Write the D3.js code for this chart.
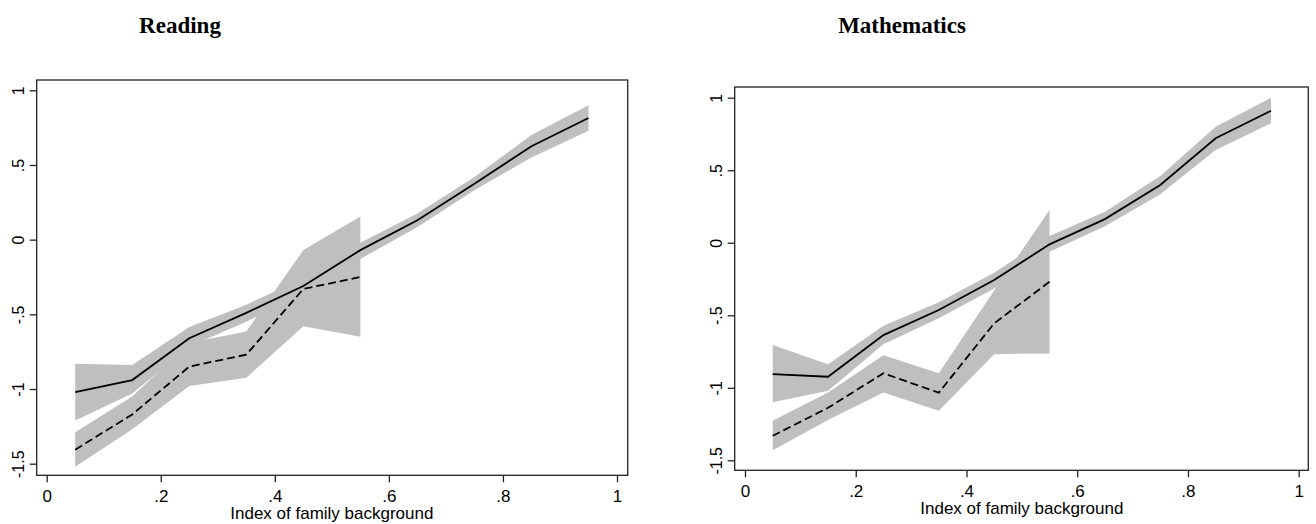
<!DOCTYPE html>
<html>
<head>
<meta charset="utf-8">
<script src="https://cdn.jsdelivr.net/npm/d3@7"></script>
<style>
	body { margin: 0; background: #fff; }
	svg { display: block; }
	text { font-family: "Liberation Sans", Arial, sans-serif; fill: #000; }
	.title { font-family: "Liberation Serif", "Times New Roman", serif; font-weight: bold; }
</style>
</head>
<body>
<svg id="chart" width="1316" height="524"></svg>
<script>

// decile midpoints of the family background index
const xMid = [0.05, 0.15, 0.25, 0.35, 0.45, 0.55, 0.65, 0.75, 0.85, 0.95]

// Reading
const readSolid = [-1.02, -0.94, -0.66, -0.49, -0.31, -0.07, 0.13, 0.375, 0.625, 0.815]
const readSolidLo = [-1.21, -1.03, -0.715, -0.55, -0.36, -0.13, 0.085, 0.33, 0.55, 0.73]
const readSolidHi = [-0.83, -0.84, -0.585, -0.435, -0.26, -0.02, 0.175, 0.42, 0.70, 0.90]
const readDash = [-1.406, -1.17, -0.85, -0.77, -0.33, -0.25]
const readDashLo = [-1.52, -1.27, -0.98, -0.925, -0.58, -0.65]
const readDashHi = [-1.29, -1.05, -0.69, -0.615, -0.07, 0.155]

// Mathematics
const mathSolid = [-0.906, -0.924, -0.637, -0.464, -0.257, -0.011, 0.163, 0.398, 0.72, 0.91]
const mathSolidLo = [-1.10, -1.02, -0.70, -0.52, -0.315, -0.062, 0.113, 0.335, 0.64, 0.823]
const mathSolidHi = [-0.705, -0.837, -0.572, -0.41, -0.207, 0.046, 0.213, 0.46, 0.80, 1.0]
const mathDash = [-1.331, -1.138, -0.90, -1.034, -0.556, -0.269]
const mathDashLo = [-1.43, -1.223, -1.032, -1.159, -0.768, -0.763]
const mathDashHi = [-1.228, -1.032, -0.775, -0.90, -0.33, 0.225]

const xTicks = [0, 0.2, 0.4, 0.6, 0.8, 1]
const yTicks = [1, 0.5, 0, -0.5, -1, -1.5]
const xLabel = 'Index of family background'

const fmt = v => String(v).replace('0.', '.')

const svg = d3.select('#chart')

const panels = [
	{
		title: 'Reading', titleX: 180,
		box: [36.7, 80, 627.7, 475.3], xr: [46.7, 617], yr: [90.3, 463.7],
		solid: readSolid, solidLo: readSolidLo, solidHi: readSolidHi,
		dash: readDash, dashLo: readDashLo, dashHi: readDashHi
	},
	{
		title: 'Mathematics', titleX: 902,
		box: [734.7, 87, 1308.3, 470.3], xr: [745, 1298.7], yr: [97.7, 460.3],
		solid: mathSolid, solidLo: mathSolidLo, solidHi: mathSolidHi,
		dash: mathDash, dashLo: mathDashLo, dashHi: mathDashHi
	}
]

panels.forEach(p => {
	const [bx0, by0, bx1, by1] = p.box
	const xScale = d3.scaleLinear().domain([0, 1]).range(p.xr)
	const yScale = d3.scaleLinear().domain([1, -1.5]).range(p.yr)

	const g = svg.append('g')

	const area = d3.area()
		.x(d => xScale(d.x))
		.y0(d => yScale(d.lo))
		.y1(d => yScale(d.hi))

	const line = d3.line()
		.x(d => xScale(d.x))
		.y(d => yScale(d.y))

	const solidData = xMid.map((x, i) => ({ x, y: p.solid[i], lo: p.solidLo[i], hi: p.solidHi[i] }))
	const dashData = p.dash.map((y, i) => ({ x: xMid[i], y, lo: p.dashLo[i], hi: p.dashHi[i] }))

	g.append('path')
		.attr('d', area(solidData))
		.style('fill', '#bfbfbf')
	g.append('path')
		.attr('d', area(dashData))
		.style('fill', '#bfbfbf')

	g.append('path')
		.attr('d', line(solidData))
		.style('fill', 'none')
		.style('stroke', '#000')
		.attr('stroke-width', 1.8)
	g.append('path')
		.attr('d', line(dashData))
		.style('fill', 'none')
		.style('stroke', '#000')
		.attr('stroke-width', 1.8)
		.attr('stroke-dasharray', '8,4')

	// plot region frame
	g.append('rect')
		.attr('x', bx0)
		.attr('y', by0)
		.attr('width', bx1 - bx0)
		.attr('height', by1 - by0)
		.style('fill', 'none')
		.style('stroke', '#222')
		.attr('stroke-width', 1.3)

	// y axis
	const yAxis = g.append('g').attr('transform', `translate(${bx0},0)`)
		.call(d3.axisLeft(yScale).tickValues(yTicks).tickFormat(fmt).tickSize(7).tickPadding(5))
	yAxis.select('.domain').remove()
	yAxis.selectAll('line').style('stroke', '#222').attr('stroke-width', 1.3)
	yAxis.selectAll('text')
		.attr('x', null).attr('dy', null)
		.attr('transform', 'translate(-12.5,0) rotate(-90)')
		.style('text-anchor', 'middle')
		.style('font-size', '16px')
		.style('font-family', '"Liberation Sans", Arial, sans-serif')

	// x axis
	const xAxis = g.append('g').attr('transform', `translate(0,${by1})`)
		.call(d3.axisBottom(xScale).tickValues(xTicks).tickFormat(fmt).tickSize(7).tickPadding(5))
	xAxis.select('.domain').remove()
	xAxis.selectAll('line').style('stroke', '#222').attr('stroke-width', 1.3)
	xAxis.selectAll('text')
		.attr('y', 27).attr('dy', null)
		.style('font-size', '17px')
		.style('font-family', '"Liberation Sans", Arial, sans-serif')

	g.append('text')
		.attr('x', xScale(0.5))
		.attr('y', by1 + 44)
		.style('text-anchor', 'middle')
		.style('font-size', '17px')
		.text(xLabel)

	g.append('text')
		.attr('class', 'title')
		.attr('x', p.titleX)
		.attr('y', 33)
		.style('text-anchor', 'middle')
		.style('font-size', '23px')
		.text(p.title)
})
</script>
</body>
</html>
